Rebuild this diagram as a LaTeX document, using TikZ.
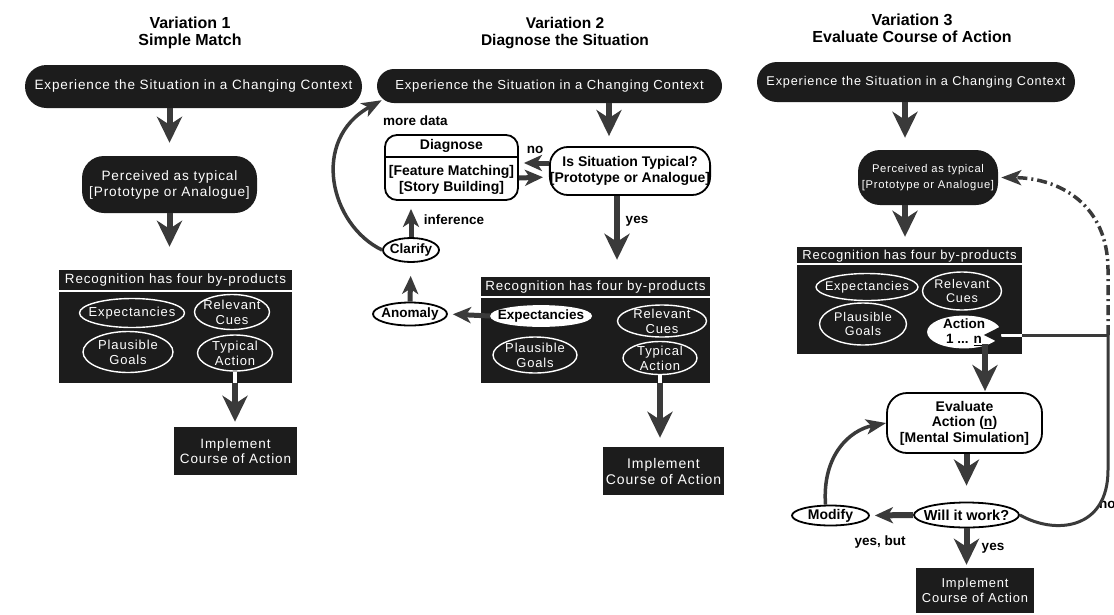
\documentclass[tikz,border=0pt]{standalone}
\usepackage{fontspec}
\setmainfont{Liberation Sans}
\newfontfamily\trk[LetterSpace=6.5]{Liberation Sans}
\usetikzlibrary{arrows.meta,shapes.geometric}
\definecolor{boxdark}{HTML}{1C1C1C}
\definecolor{arrgray}{HTML}{3A3A3A}
\tikzset{
  dkf/.style 2 args={font=\trk\fontsize{#1}{#2}\selectfont},
  bff/.style 2 args={font=\bfseries\fontsize{#1}{#2}\selectfont},
  darkpill/.style={fill=boxdark, text=white, rounded corners=#1, inner sep=0pt, align=center},
  darkrect/.style={fill=boxdark, text=white, inner sep=0pt, align=center},
  dell/.style={ellipse, draw=white, line width=1.4pt, text=white, align=center, inner xsep=-30pt, inner ysep=-12pt},
  well/.style={ellipse, draw=black, fill=white, line width=1.8pt, text=black, align=center, inner xsep=-30pt, inner ysep=-12pt},
  wbox/.style={draw=black, fill=white, line width=1.8pt, rounded corners=#1, inner sep=0pt, align=center},
  bigarr/.style={draw=arrgray, line width=6pt, -{Stealth[length=26pt,width=25pt,inset=8pt]}},
  midarr/.style={draw=arrgray, line width=5pt, -{Stealth[length=18pt,width=16pt,inset=5pt]}},
  curvarr/.style={draw=arrgray, line width=3.5pt, -{Stealth[length=20pt,width=15pt,inset=5pt]}},
  lbl/.style={text=black, inner sep=0pt},
  ttl/.style={text=black, align=center, inner sep=0pt},
}
\begin{document}
\begin{tikzpicture}[x=1pt,y=-1pt]
\fill[white] (0,0) rectangle (1114,614);
\path[use as bounding box] (0,0) rectangle (1114,614);

% ---------- titles
\node[ttl, bff={16}{17}] (t1) at (190,33) {Variation 1\\Simple Match};
\node[ttl, bff={15.5}{17}] (t2) at (565,33) {Variation 2\\Diagnose the Situation};
\node[ttl, bff={16}{17}] (t3) at (912,28) {Variation 3\\Evaluate Course of Action};

% ---------- Column 1
\node[darkpill=21.5pt, minimum width=337pt, minimum height=43pt, dkf={13.5}{15}] (e1) at (193.5,86.5) {Experience the Situation in a Changing Context};
\node[darkpill=22pt, minimum width=175pt, minimum height=57pt, dkf={13.6}{16}] (p1) at (169.5,184.5) {Perceived as typical\\{[}Prototype or Analogue{]}};
\node[darkrect, minimum width=233pt, minimum height=113pt] (r1) at (175.5,326.5) {};
\node[lbl, text=white, dkf={13.4}{15}] (h1) at (175.5,280.5) {Recognition has four by-products};
\draw[white, line width=1.5pt] ([yshift=-21pt]r1.north west) -- ([yshift=-21pt]r1.north east);
\node[dell, minimum width=105pt, minimum height=29pt, dkf={13}{15}] (x1) at (132,313) {Expectancies};
\node[dell, minimum width=75pt, minimum height=35pt, dkf={13}{15}] (c1) at (232,312) {Relevant\\Cues};
\node[dell, minimum width=90pt, minimum height=41pt, dkf={13}{15}] (g1) at (128,352) {Plausible\\Goals};
\node[dell, minimum width=75pt, minimum height=36pt, dkf={13}{15}] (a1) at (235,353) {Typical\\Action};
\node[darkrect, minimum width=123pt, minimum height=48pt, dkf={13.5}{15.5}] (i1) at (235.5,451) {Implement\\Course of Action};

\draw[bigarr, shorten >=13pt] (p1 |- e1.south) -- (p1.north);
\draw[bigarr, shorten >=23pt] (p1.south) -- (p1.south |- r1.north);
\draw[white, line width=4.5pt] (a1.south) -- (a1.south |- r1.south);
\draw[bigarr, shorten >=5pt] (a1.south |- r1.south) -- (a1.south |- i1.north);

% ---------- Column 2
\node[darkpill=17pt, minimum width=345pt, minimum height=34pt, dkf={13.1}{15}] (e2) at (549.5,86) {Experience the Situation in a Changing Context};
\node[wbox=12pt, minimum width=133pt, minimum height=65pt] (dg) at (451.5,167.5) {};
\node[lbl, bff={14}{16}] (dgt) at (451.5,145.5) {Diagnose};
\draw[black, line width=1.5pt] ([yshift=-23pt]dg.north west) -- ([yshift=-23pt]dg.north east);
\node[lbl, align=center, bff={14}{16}] (dgs) at (451.5,179.5) {{[}Feature Matching{]}\\{[}Story Building{]}};
\node[wbox=18pt, minimum width=154pt, minimum height=48pt, bff={14}{16.5}] (is2) at (630,171) {Is Situation Typical?\\{[}Prototype or Analogue{]}};
\node[lbl, bff={13.5}{15}] (no2) at (535,150) {no};
\node[darkrect, minimum width=229pt, minimum height=106pt] (r2) at (595.5,330) {};
\node[lbl, text=white, dkf={13.35}{15}] (h2) at (595.5,287.5) {Recognition has four by-products};
\draw[white, line width=1.5pt] ([yshift=-20pt]r2.north west) -- ([yshift=-20pt]r2.north east);
\node[well, draw=white, minimum width=100pt, minimum height=20pt, bff={13.5}{15}] (x2) at (541,316) {Expectancies};
\node[dell, minimum width=89pt, minimum height=32pt, dkf={13}{15}] (c2) at (662,321) {Relevant\\Cues};
\node[dell, minimum width=84pt, minimum height=36pt, dkf={13}{15}] (g2) at (535,355) {Plausible\\Goals};
\node[dell, minimum width=74pt, minimum height=33pt, dkf={13}{15}] (a2) at (660,358) {Typical\\Action};
\node[darkrect, minimum width=121pt, minimum height=48pt, dkf={14}{16}] (i2) at (663.5,471) {Implement\\Course of Action};
\node[well, minimum width=74pt, minimum height=23pt, bff={13.5}{15}] (an) at (410,314) {Anomaly};
\node[well, minimum width=56pt, minimum height=24pt, bff={13.5}{15}] (cl) at (411,250) {Clarify};
\node[lbl, bff={13.5}{15}] (inf) at (454,220) {inference};
\node[lbl, anchor=west, bff={13.5}{15}] (md) at (383,121) {more data};
\node[lbl, bff={13.5}{15}] (yes2) at (637,221) {yes};

\draw[bigarr, shorten >=10pt] ([xshift=-21pt]is2.north |- e2.south) -- ([xshift=-21pt]is2.north);
\draw[midarr, shorten >=5pt] ([yshift=8pt]is2.west) -- ([yshift=4.5pt]dg.east);
\draw[midarr, shorten >=6pt] ([yshift=-10.5pt]dg.east) -- ([yshift=-6pt]is2.west);
\draw[bigarr, shorten >=17pt] ([xshift=-13pt]is2.south) -- ([xshift=-13pt]is2.south |- r2.north);
\draw[white, line width=4.5pt] (a2.south) -- (a2.south |- r2.south);
\draw[bigarr, shorten >=9pt] (a2.south |- r2.south) -- (a2.south |- i2.north);
\draw[midarr, shorten >=5pt] (x2.west) -- (an.east);
\draw[midarr, shorten >=13pt] (an.north) -- (cl.south);
\draw[midarr, shorten >=8pt] (cl.north) -- (cl.north |- dg.south);
\draw[curvarr] (cl.west) .. controls (330,225) and (310,140) .. ([xshift=5pt,yshift=3pt]e2.south west);

% ---------- Column 3
\node[darkpill=20pt, minimum width=318pt, minimum height=40pt, dkf={12.7}{15}] (e3) at (916,82) {Experience the Situation in a Changing Context};
\node[darkpill=22pt, minimum width=140pt, minimum height=55pt, dkf={11.2}{16}] (p3) at (928,177.5) {Perceived as typical\\{[}Prototype or Analogue{]}};
\node[darkrect, minimum width=225pt, minimum height=107pt] (r3) at (909.5,300.5) {};
\node[lbl, text=white, dkf={13}{15}] (h3) at (909.5,256) {Recognition has four by-products};
\draw[white, line width=1.5pt] ([yshift=-17pt]r3.north west) -- ([yshift=-17pt]r3.north east);
\node[dell, minimum width=102pt, minimum height=27pt, dkf={12.6}{14.5}] (x3) at (867,287) {Expectancies};
\node[dell, minimum width=79pt, minimum height=38pt, dkf={12.6}{14.5}] (c3) at (962,291) {Relevant\\Cues};
\node[dell, minimum width=87pt, minimum height=42pt, dkf={12.6}{14.5}] (g3) at (863,324) {Plausible\\Goals};
\node[well, draw=white, minimum width=72pt, minimum height=31pt, bff={13.5}{15}] (act) at (964,332) {Action\\1 ... \underline{n}};
\node[wbox=20pt, minimum width=155pt, minimum height=60pt, bff={14}{15.5}] (ev) at (964.5,423) {Evaluate\\Action (\underline{n})\\{[}Mental Simulation{]}};
\node[well, minimum width=105pt, minimum height=25pt, bff={14.5}{16}] (wi) at (966.5,515) {Will it work?};
\node[well, minimum width=77pt, minimum height=20pt, bff={14}{15}] (mo) at (830.5,515.5) {Modify};
\node[darkrect, minimum width=118pt, minimum height=45pt, dkf={12.9}{15}] (i3) at (975,590.5) {Implement\\Course of Action};
\node[lbl, bff={13.5}{15}] (yb) at (880,542) {yes, but};
\node[lbl, bff={13.5}{15}] (yes3) at (993,548) {yes};
\node[lbl, anchor=west, bff={13.5}{15}] (no3) at (1099,505) {no};

\coordinate (j3) at (1108,335);
\path ([xshift=-17pt]act.east) coordinate (nt);
\path ([xshift=21pt]act.south) coordinate (ad);

\draw[bigarr, shorten >=12pt] ([xshift=-11pt]e3.south) -- ([xshift=-11pt]e3.south |- p3.north);
\draw[bigarr, shorten >=10pt] ([xshift=-23pt]p3.south) -- ([xshift=-23pt]p3.south |- r3.north);
\draw[arrgray, line width=3pt] (j3) -- (r3.east |- j3);
\draw[white, line width=3pt, -{Stealth[length=20pt,width=20pt,inset=3pt,color=boxdark,fill=boxdark]}] (r3.east |- j3) -- (nt |- j3);
\draw[bigarr, shorten >=1pt] ([yshift=4pt]ad) -- (ad |- ev.north);
\draw[bigarr, shorten >=16pt] ([xshift=2pt]ev.south) -- ([xshift=2pt]ev.south |- wi.north);
\draw[midarr, line width=6pt, shorten >=5pt] (wi.west) -- (mo.east);
\draw[bigarr, shorten >=3pt] (wi.south) -- (wi.south |- i3.north);
\draw[curvarr] ([xshift=-5pt]mo.north) .. controls (822,455) and (850,430) .. (ev.west);
\draw[arrgray, line width=3pt] (wi.east) .. controls (1055,535) and (1108,530) .. (1108,470) -- (j3);
\draw[arrgray, line width=3.5pt, dash pattern=on 10pt off 4pt on 2pt off 4pt, -{Stealth[length=20pt,width=15pt,inset=5pt]}, shorten >=3pt] (j3) -- (1108,270) .. controls (1108,205) and (1060,178) .. (p3.east);
\end{tikzpicture}
\end{document}
